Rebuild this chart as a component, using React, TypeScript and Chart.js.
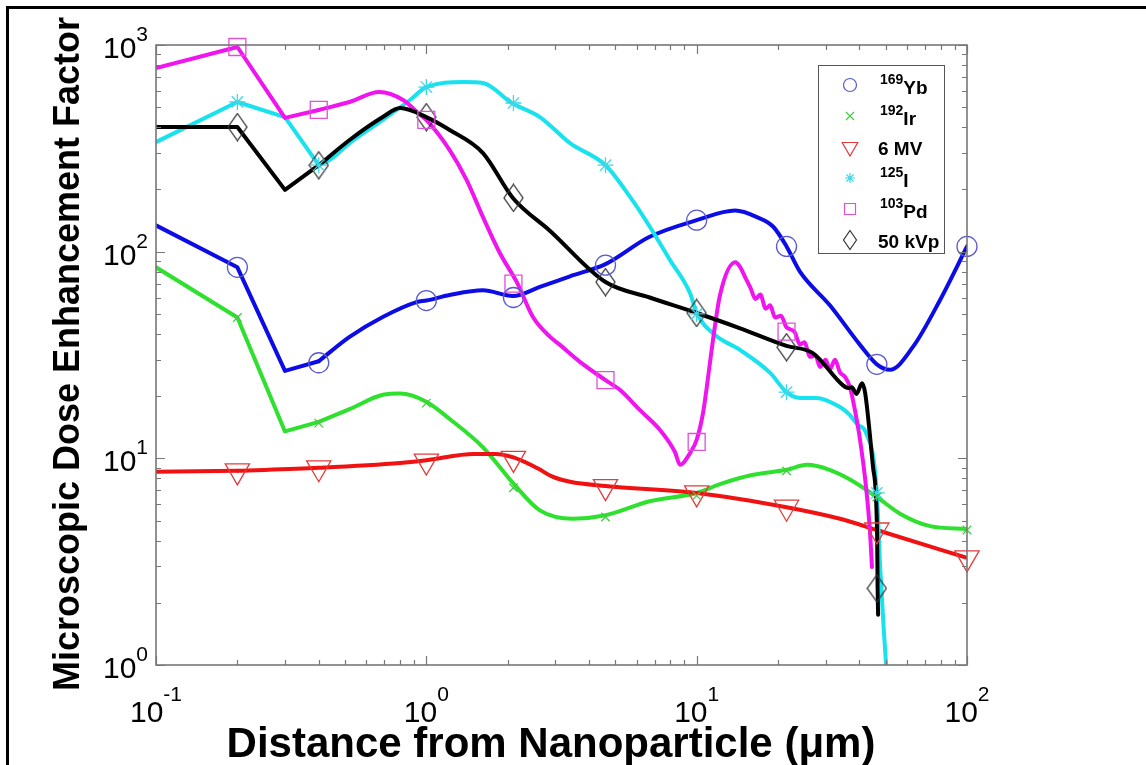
import React, { useEffect, useRef } from 'react';
import { Chart, registerables } from 'chart.js';

Chart.register(...registerables);

// ---------- data ----------
const MARKER_X = [0.2, 0.4, 1, 2.1, 4.6, 10, 21.5, 46.4, 100];

const ybX = [0.1, 0.2, 0.3, 0.4, 0.52, 0.69, 0.92, 1.0, 1.22, 1.62, 2.09, 2.63, 3.4, 4.6, 6.7, 10, 13.9, 16.7, 19.2, 21.5, 24.1, 31.1, 40.2, 46.4, 51.9, 63.1, 79.5, 100];
const ybY = [134, 84, 26.5, 29.5, 38.7, 48.3, 57, 58, 61.7, 65, 61, 67.5, 76, 87, 118, 142, 158, 147, 132, 106, 80, 55, 35.4, 28.5, 26.8, 34.6, 58.4, 106];
const ybM = [84, 29, 58, 60, 86, 142, 106, 28.5, 106];

const irX = [0.1, 0.2, 0.3, 0.4, 0.52, 0.69, 0.8, 1.0, 1.22, 1.62, 2.09, 2.63, 3.49, 4.6, 6.7, 10, 12.2, 16, 21.5, 25.6, 31, 36.9, 46.4, 56.5, 73, 100];
const irY = [84, 48, 13.5, 15, 17.3, 20.3, 20.6, 18.8, 15.5, 11.3, 7.6, 5.6, 5.1, 5.3, 6.2, 6.8, 7.5, 8.3, 8.8, 9.3, 8.8, 7.9, 6.5, 5.4, 4.7, 4.55];
const irM = [48, 14.8, 18.5, 7.2, 5.2, 6.6, 8.7, 6.5, 4.5];

const mvX = [0.1, 0.2, 0.4, 0.8, 1.0, 1.5, 1.8, 2.1, 2.6, 2.9, 3.4, 4.6, 10, 21.5, 33.9, 46.4, 100];
const mvY = [8.6, 8.7, 9.0, 9.5, 9.8, 10.5, 10.5, 10.1, 8.9, 8.2, 7.7, 7.35, 6.8, 5.8, 5.1, 4.5, 3.3];
const mvM = [8.7, 9.0, 9.7, 10.0, 7.3, 6.8, 5.8, 4.5, 3.3];

const iX = [0.1, 0.2, 0.3, 0.4, 0.44, 0.52, 0.69, 0.87, 1.0, 1.37, 1.62, 2.07, 2.63, 3.4, 4.6, 5.67, 6.71, 7.97, 9.45, 10, 11.7, 14.5, 18.7, 21.5, 24.1, 27.6, 33.9, 36.9, 39.5, 42.3, 46.4, 47.7, 49.3, 50.5];
const iY = [339, 530, 448, 262, 278, 335, 434, 542, 626, 662, 655, 524, 448, 335, 262, 184, 132, 91, 63, 50.5, 39.5, 33.4, 25.9, 20.9, 19.6, 19.6, 17.7, 16.2, 14.5, 13.3, 6.8, 3.0, 1.43, 0.9];
const iM = [530, 262, 626, 524, 262, 50, 20.9, 6.8, null];

const pdX = [0.1, 0.2, 0.3, 0.4, 0.52, 0.67, 0.82, 0.95, 1.0, 1.22, 1.41, 1.62, 1.87, 2.17, 2.48, 2.87, 3.12, 3.7, 4.6, 5.21, 6.17, 7.32, 8.32, 8.68, 9.45, 10, 10.56, 10.9, 11.4, 12.2, 13.9, 14.5, 15.2, 15.8, 16.5, 17.2, 18, 18.7, 19.5, 20.5, 21.5, 23, 24.1, 25, 26.3, 27.5, 28.6, 30, 31.1, 32.5, 33.9, 35.4, 36.9, 38.5, 40.2, 42.3, 43.8, 44.5];
const pdY = [774, 978, 444, 485, 530, 592, 542, 459, 434, 310, 222, 147, 98.5, 70.5, 48.3, 38.7, 35.4, 29.3, 23.9, 21.4, 17.1, 13.7, 10.7, 9.3, 10.6, 12.3, 16.6, 22.1, 34.6, 61.7, 89, 84, 74, 67, 59, 62, 53, 55, 48, 49, 43, 41, 35.5, 36.5, 31, 31.5, 27.7, 30, 27, 30, 26, 24.8, 22.1, 17.1, 12.3, 7.3, 4.35, 2.98];
const pdM = [978, 485, 434, 70, 23.9, 12, 41, null, null];

const kvpX = [0.1, 0.2, 0.3, 0.4, 0.52, 0.69, 0.8, 1.0, 1.22, 1.62, 2.09, 2.87, 4.6, 6.7, 10, 14.4, 21.5, 26.9, 34.7, 36.3, 37.5, 39, 40.9, 42, 44.9, 46.5, 46.7, 46.9];
const kvpY = [401, 401, 199, 262, 347, 448, 495, 448, 388, 300, 182, 126, 71.3, 60, 50.5, 42.7, 35, 32.3, 22.6, 21.9, 22.1, 20.5, 23.1, 20.7, 9.1, 4.35, 2.4, 1.75];
const kvpM = [401, 262, 448, 182, 71.3, 50.5, 34.5, 2.35, null];

// number of leading points joined by straight segments (coarse part of each curve)
const LINEAR_HEAD = [4, 4, 2, 4, 4, 4];

const X_TICKS = [0.1, 1, 10, 100];
const X_TICK_EXP = ['-1', '0', '1', '2'];
const Y_TICKS = [1, 10, 100, 1000];
const Y_TICK_EXP = ['0', '1', '2', '3'];
const X_TITLE = 'Distance from Nanoparticle (\u03bcm)';
const Y_TITLE = 'Microscopic Dose Enhancement Factor';
const LEGEND_SUP = ['169', '192', '', '125', '103', ''];
const LEGEND_MAIN = ['Yb', 'Ir', '6 MV', 'I', 'Pd', '50 kVp'];

// ---------- styles ----------
const LINE_COLORS = ['#0c0ce6', '#2fe02f', '#f01212', '#18e2ee', '#f014ee', '#000000'];
const MARK_COLORS = ['#5a5ad2', '#44cc44', '#e23c3c', '#3ad8e8', '#e050d8', '#333333'];
const FONT = '"Liberation Sans", Arial, sans-serif';

function pts(xs: number[], ys: (number | null)[]) {
  const out: { x: number; y: number }[] = [];
  xs.forEach((x, i) => {
    const y = ys[i];
    if (y !== null && y !== undefined) out.push({ x, y });
  });
  return out;
}

function makeDiamond(w: number, h: number, color: string, lw: number) {
  const c = document.createElement('canvas');
  c.width = w;
  c.height = h;
  const g = c.getContext('2d')!;
  g.strokeStyle = color;
  g.lineWidth = lw;
  g.beginPath();
  g.moveTo(w / 2, 1);
  g.lineTo(w - 1, h / 2);
  g.lineTo(w / 2, h - 1);
  g.lineTo(1, h / 2);
  g.closePath();
  g.stroke();
  return c;
}

function drawLegendMarker(ctx: CanvasRenderingContext2D, i: number, x: number, y: number) {
  ctx.save();
  ctx.strokeStyle = MARK_COLORS[i];
  ctx.lineWidth = 1.2;
  ctx.beginPath();
  if (i === 0) {
    ctx.arc(x, y, 6.5, 0, Math.PI * 2);
  } else if (i === 1) {
    const r = 4;
    ctx.moveTo(x - r, y - r); ctx.lineTo(x + r, y + r);
    ctx.moveTo(x + r, y - r); ctx.lineTo(x - r, y + r);
  } else if (i === 2) {
    const r = 9;
    ctx.moveTo(x - r * 0.866, y - r * 0.5);
    ctx.lineTo(x + r * 0.866, y - r * 0.5);
    ctx.lineTo(x, y + r);
    ctx.closePath();
  } else if (i === 3) {
    const r = 5;
    for (let k = 0; k < 4; k++) {
      const a = (k * Math.PI) / 4;
      ctx.moveTo(x - Math.cos(a) * r, y - Math.sin(a) * r);
      ctx.lineTo(x + Math.cos(a) * r, y + Math.sin(a) * r);
    }
  } else if (i === 4) {
    ctx.rect(x - 5.5, y - 5.5, 11, 11);
  } else {
    ctx.moveTo(x, y - 9.5);
    ctx.lineTo(x + 6.5, y);
    ctx.lineTo(x, y + 9.5);
    ctx.lineTo(x - 6.5, y);
    ctx.closePath();
  }
  ctx.stroke();
  ctx.restore();
}

const decorPlugin = {
  id: 'decor',
  beforeDraw(chart: any) {
    const ctx: CanvasRenderingContext2D = chart.ctx;
    ctx.save();
    ctx.fillStyle = '#000';
    ctx.fillRect(6, 6, chart.width - 6, 3);
    ctx.fillRect(6, 6, 3, chart.height - 6);
    ctx.restore();
  },
  afterDatasetsDraw(chart: any) {
    const ctx: CanvasRenderingContext2D = chart.ctx;
    const { left, right, top, bottom } = chart.chartArea;
    const xs = chart.scales.x;
    const ys = chart.scales.y;
    ctx.save();
    ctx.strokeStyle = '#777777';
    ctx.lineWidth = 1.6;
    ctx.strokeRect(left, top, right - left, bottom - top);
    ctx.lineWidth = 1.2;
    ctx.beginPath();
    for (let d = 0; d < 3; d++) {
      const base = X_TICKS[d];
      for (let m = 1; m <= 10; m++) {
        const px = Math.round(xs.getPixelForValue(base * m)) + 0.5;
        const len = m === 1 || m === 10 ? 9 : 5;
        ctx.moveTo(px, bottom); ctx.lineTo(px, bottom - len);
        ctx.moveTo(px, top); ctx.lineTo(px, top + len);
      }
    }
    for (let d = 0; d < 3; d++) {
      const base = Y_TICKS[d];
      for (let m = 1; m <= 10; m++) {
        const py = Math.round(ys.getPixelForValue(base * m)) + 0.5;
        const len = m === 1 || m === 10 ? 9 : 5;
        ctx.moveTo(left, py); ctx.lineTo(left + len, py);
        ctx.moveTo(right, py); ctx.lineTo(right - len, py);
      }
    }
    ctx.stroke();
    ctx.restore();
  },
  afterDraw(chart: any) {
    const ctx: CanvasRenderingContext2D = chart.ctx;
    const { left, bottom } = chart.chartArea;
    const xs = chart.scales.x;
    const ys = chart.scales.y;
    ctx.save();
    ctx.fillStyle = '#000';
    ctx.textAlign = 'left';
    ctx.textBaseline = 'alphabetic';
    const bigF = `30px ${FONT}`;
    const supF = `21px ${FONT}`;
    // x tick labels
    X_TICKS.forEach((v, i) => {
      const px = xs.getPixelForValue(v);
      ctx.font = bigF;
      const w1 = ctx.measureText('10').width;
      ctx.font = supF;
      const w2 = ctx.measureText(X_TICK_EXP[i]).width;
      const sx = px - (w1 + w2) / 2;
      ctx.font = bigF;
      ctx.fillText('10', sx, bottom + 57);
      ctx.font = supF;
      ctx.fillText(X_TICK_EXP[i], sx + w1, bottom + 36);
    });
    // y tick labels
    Y_TICKS.forEach((v, i) => {
      const py = ys.getPixelForValue(v);
      ctx.font = bigF;
      const w1 = ctx.measureText('10').width;
      ctx.font = supF;
      const w2 = ctx.measureText(Y_TICK_EXP[i]).width;
      const sx = left - 8 - (w1 + w2);
      ctx.font = bigF;
      ctx.fillText('10', sx, py + 13);
      ctx.font = supF;
      ctx.fillText(Y_TICK_EXP[i], sx + w1, py - 4);
    });
    // axis titles
    ctx.textAlign = 'center';
    ctx.font = `bold 42px ${FONT}`;
    ctx.fillText(X_TITLE, 551, 757);
    ctx.save();
    ctx.translate(79, 354);
    ctx.rotate(-Math.PI / 2);
    ctx.font = `bold 36px ${FONT}`;
    ctx.fillText(Y_TITLE, 0, 0);
    ctx.restore();
    // legend
    const bx = 818, by = 65, bw = 126, bh = 188;
    ctx.fillStyle = '#fff';
    ctx.fillRect(bx, by, bw, bh);
    ctx.strokeStyle = '#555';
    ctx.lineWidth = 1;
    ctx.strokeRect(bx + 0.5, by + 0.5, bw, bh);
    ctx.textAlign = 'left';
    ctx.fillStyle = '#000';
    LEGEND_MAIN.forEach((label, i) => {
      const y = 85 + i * 31;
      drawLegendMarker(ctx, i, 850, y);
      let tx = 880;
      if (LEGEND_SUP[i]) {
        ctx.font = `bold 14px ${FONT}`;
        ctx.fillText(LEGEND_SUP[i], tx, y - 1);
        tx += ctx.measureText(LEGEND_SUP[i]).width;
        ctx.font = `bold 19px ${FONT}`;
        ctx.fillText(label, tx, y + 9);
      } else {
        ctx.font = `bold 19px ${FONT}`;
        ctx.fillText(label, tx - 2, y + 8);
      }
    });
    ctx.restore();
  },
};

export default function App() {
  const ref = useRef<HTMLCanvasElement | null>(null);

  useEffect(() => {
    if (!ref.current) return;
    const diamond = makeDiamond(21, 29, MARK_COLORS[5], 1.3);
    const series = [
      { label: '169Yb', xs: ybX, ys: ybY, order: 6 },
      { label: '192Ir', xs: irX, ys: irY, order: 5 },
      { label: '6 MV', xs: mvX, ys: mvY, order: 4 },
      { label: '125I', xs: iX, ys: iY, order: 3 },
      { label: '103Pd', xs: pdX, ys: pdY, order: 2 },
      { label: '50 kVp', xs: kvpX, ys: kvpY, order: 1 },
    ];
    const lineSets: any[] = [];
    series.forEach((s, i) => {
      const all = pts(s.xs, s.ys);
      const k = LINEAR_HEAD[i];
      const common = {
        borderColor: LINE_COLORS[i],
        backgroundColor: LINE_COLORS[i],
        borderWidth: 4,
        pointRadius: 0,
        fill: false,
        order: s.order,
        borderJoinStyle: 'round' as const,
        borderCapStyle: 'round' as const,
      };
      lineSets.push({ ...common, label: s.label + ' (head)', data: all.slice(0, k), tension: 0 });
      lineSets.push({ ...common, label: s.label, data: all.slice(k - 1), cubicInterpolationMode: 'monotone' });
    });
    const markerDefs = [
      { ys: ybM, style: 'circle', r: 10, rot: 0 },
      { ys: irM, style: 'crossRot', r: 6, rot: 0 },
      { ys: mvM, style: 'triangle', r: 14, rot: 180 },
      { ys: iM, style: 'star', r: 8, rot: 0 },
      { ys: pdM, style: 'rect', r: 12, rot: 0 },
      { ys: kvpM, style: diamond as any, r: 12, rot: 0 },
    ];
    const markerSets = markerDefs.map((m, i) => ({
      label: LEGEND_SUP[i] + LEGEND_MAIN[i] + ' markers',
      data: pts(MARKER_X, m.ys),
      showLine: false,
      borderColor: MARK_COLORS[i],
      backgroundColor: 'rgba(0,0,0,0)',
      pointStyle: m.style,
      pointRadius: m.r,
      pointRotation: m.rot,
      pointBorderWidth: 1.3,
      pointBorderColor: MARK_COLORS[i],
      pointBackgroundColor: 'rgba(0,0,0,0)',
      clip: false as any,
      order: 0,
    }));

    const chart = new Chart(ref.current, {
      type: 'line',
      data: { datasets: [...lineSets, ...markerSets] as any },
      options: {
        animation: false,
        responsive: false,
        events: [],
        layout: { padding: { left: 156, top: 45, right: 179, bottom: 100 } },
        plugins: { legend: { display: false }, tooltip: { enabled: false }, title: { display: false } },
        scales: {
          x: { type: 'logarithmic', min: 0.1, max: 100, display: false },
          y: { type: 'logarithmic', min: 1, max: 1000, display: false },
        },
      },
      plugins: [decorPlugin],
    });
    return () => chart.destroy();
  }, []);

  return (
    <div style={{ position: 'absolute', left: 0, top: 0, width: 1146, height: 765, background: '#fff' }}>
      <canvas ref={ref} width={1146} height={765} style={{ display: 'block', width: 1146, height: 765 }} />
    </div>
  );
}
